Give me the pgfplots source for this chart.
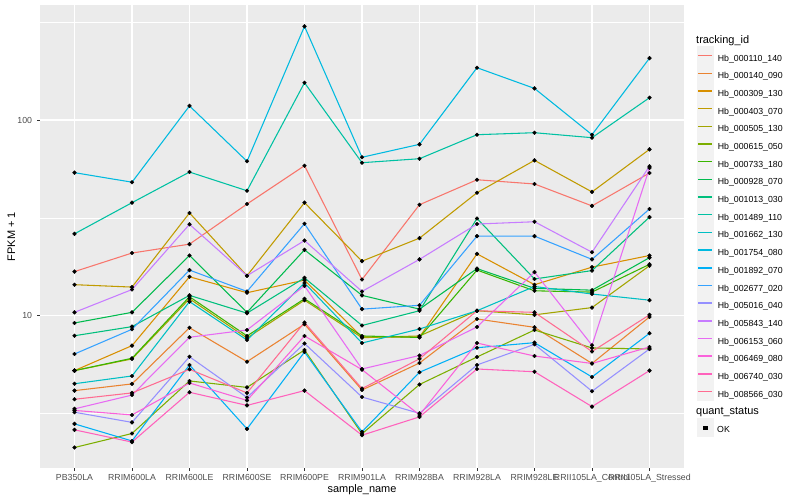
\documentclass[border=0pt]{standalone}
\usepackage{fontspec}
\setmainfont{Liberation Sans}
\usepackage{pgfplots}
\usepackage{pgfplotstable}
\pgfplotsset{compat=1.18}

\definecolor{panelbg}{HTML}{EBEBEB}
\definecolor{keybg}{HTML}{F2F2F2}
\definecolor{grey20}{HTML}{333333}
\definecolor{grey30}{HTML}{4D4D4D}
\definecolor{c01}{HTML}{F8766D}
\definecolor{c02}{HTML}{EA8331}
\definecolor{c03}{HTML}{D89000}
\definecolor{c04}{HTML}{C09B00}
\definecolor{c05}{HTML}{A3A500}
\definecolor{c06}{HTML}{7CAE00}
\definecolor{c07}{HTML}{39B600}
\definecolor{c08}{HTML}{00BB4E}
\definecolor{c09}{HTML}{00BF7D}
\definecolor{c10}{HTML}{00C1A3}
\definecolor{c11}{HTML}{00BFC4}
\definecolor{c12}{HTML}{00BAE0}
\definecolor{c13}{HTML}{00B0F6}
\definecolor{c14}{HTML}{35A2FF}
\definecolor{c15}{HTML}{9590FF}
\definecolor{c16}{HTML}{C77CFF}
\definecolor{c17}{HTML}{E76BF3}
\definecolor{c18}{HTML}{FA62DB}
\definecolor{c19}{HTML}{FF62BC}
\definecolor{c20}{HTML}{FF6C91}

% FPKM + 1 per sample (rows) and transcript (columns)
\pgfplotstableread{
x  s01  s02  s03  s04  s05  s06  s07  s08  s09  s10  s11  s12  s13  s14  s15  s16  s17  s18  s19  s20
1  16.8 4.14 5.24 14.4 5.24 2.12 5.24 9.18 7.90 26.2 4.49 53.8 2.80 6.37 3.21 10.4 3.34 3.28 2.61 3.74
2  20.9 4.48 7.03 14.0 6.01 2.50 6.06 10.4 8.79 37.8 4.92 48.1 2.29 8.52 2.85 13.6 3.93 3.11 2.26 4.03
3  23.2 8.68 15.8 33.5 12.2 4.64 12.5 20.3 12.7 54.2 11.8 118  5.60 17.1 6.17 29.3 7.76 4.53 4.06 5.32
4  37.2 5.82 13.1 16.0 7.69 4.30 7.88 10.4 10.3 43.5 7.51 61.5 2.64 13.3 3.82 16.0 8.45 3.69 3.48 4.03
5  58.4 9.05 15.2 37.8 12.0 6.68 12.2 21.7 15.6 155  14.7 301  6.52 29.5 7.21 24.2 14.2 7.88 4.14 9.23
6  15.3 4.17 7.78 19.0 7.72 2.49 7.88 12.7 8.91 60.5 7.25 64.5 2.55 10.8 3.84 13.3 5.34 5.30 2.45 4.24
7  36.9 5.73 7.78 24.9 7.88 4.45 7.74 10.8 10.6 63.4 8.55 75.1 5.14 11.3 3.17 19.4 6.26 3.11 3.04 6.02
8  49.5 9.62 20.7 42.5 10.6 6.15 17.1 17.4 31.4 84.1 10.6 185  6.86 25.5 5.60 29.4 8.76 7.25 5.34 10.6
9  47.1 8.72 14.4 62.2 10.1 8.45 13.4 13.8 15.4 86.1 14.1 145  7.28 25.5 7.14 30.2 16.7 6.22 5.17 10.4
10 36.4 5.70 17.7 42.9 11.0 6.84 13.2 13.5 17.0 81.2 12.9 84.1 4.86 19.4 4.11 21.1 7.06 5.70 3.43 6.56
11 53.6 9.85 20.3 70.8 18.0 6.76 18.3 19.8 31.9 130  12.0 207  8.13 35.1 6.76 58.0 56.9 6.92 5.24 10.1
}\fpkm

\pgfplotsset{
  pt/.style={only marks, mark=*, mark size=1.9bp, draw=black, fill=black, forget plot},
}

\begin{document}
\begin{tikzpicture}
\useasboundingbox (0bp,0bp) rectangle (800bp,500bp);
\begin{axis}[
  at={(40bp,32bp)}, anchor=south west,
  scale only axis, width=644bp, height=463bp,
  xmin=0.4, xmax=11.6,
  ymode=log, ymin=1.666, ymax=387,
  xtick={1,...,11},
  xticklabels={PB350LA,RRIM600LA,RRIM600LE,RRIM600SE,RRIM600PE,RRIM901LA,RRIM928BA,RRIM928LA,RRIM928LE,RRII105LA\_Control,RRII105LA\_Stressed},
  ytick={10,100}, yticklabels={10,100},
  minor ytick={3.1623,31.623,316.23},
  xmajorgrids, ymajorgrids, yminorgrids,
  major grid style={white, line width=1.07bp},
  minor grid style={white, line width=0.53bp},
  axis background/.style={fill=panelbg},
  axis x line*=bottom, axis y line*=left, axis line style={draw=none},
  tick align=outside, major tick length=2.75bp, minor tick length=0pt,
  tick style={grey20, line width=0.8bp},
  ticklabel style={font=\fontsize{8.8}{10}\selectfont, text=grey30, inner sep=0pt},
  xticklabel style={yshift=-3.6bp},
  yticklabel style={xshift=-4.95bp},
  xlabel={sample\_name}, ylabel={FPKM + 1},
  label style={font=\fontsize{11}{13}\selectfont},
  xlabel style={at={(axis description cs:0.5,-0.0475)}, anchor=center},
  ylabel style={at={(axis description cs:-0.0445,0.5)}, anchor=center},
  legend style={at={(1.0196,0.9105)}, anchor=north west, draw=none, fill=none,
    inner sep=0pt, outer sep=0pt, row sep=-0.67bp, column sep=0pt,
    font=\fontsize{8.8}{10}\selectfont, nodes={inner xsep=3.6bp, inner ysep=0pt}},
  legend cell align=left,
  legend image code/.code={
    \fill[keybg] (0bp,-5.49bp) rectangle (16.6bp,11.79bp);
    \draw[#1, line width=1.5bp] (1.3bp,3.15bp) -- (15.3bp,3.15bp);},
]
\addplot[c01, line width=1.07bp] table[x=x, y=s01] {\fpkm}; \addlegendentry{Hb\_000110\_140}
\addplot[c02, line width=1.07bp] table[x=x, y=s02] {\fpkm}; \addlegendentry{Hb\_000140\_090}
\addplot[c03, line width=1.07bp] table[x=x, y=s03] {\fpkm}; \addlegendentry{Hb\_000309\_130}
\addplot[c04, line width=1.07bp] table[x=x, y=s04] {\fpkm}; \addlegendentry{Hb\_000403\_070}
\addplot[c05, line width=1.07bp] table[x=x, y=s05] {\fpkm}; \addlegendentry{Hb\_000505\_130}
\addplot[c06, line width=1.07bp] table[x=x, y=s06] {\fpkm}; \addlegendentry{Hb\_000615\_050}
\addplot[c07, line width=1.07bp] table[x=x, y=s07] {\fpkm}; \addlegendentry{Hb\_000733\_180}
\addplot[c08, line width=1.07bp] table[x=x, y=s08] {\fpkm}; \addlegendentry{Hb\_000928\_070}
\addplot[c09, line width=1.07bp] table[x=x, y=s09] {\fpkm}; \addlegendentry{Hb\_001013\_030}
\addplot[c10, line width=1.07bp] table[x=x, y=s10] {\fpkm}; \addlegendentry{Hb\_001489\_110}
\addplot[c11, line width=1.07bp] table[x=x, y=s11] {\fpkm}; \addlegendentry{Hb\_001662\_130}
\addplot[c12, line width=1.07bp] table[x=x, y=s12] {\fpkm}; \addlegendentry{Hb\_001754\_080}
\addplot[c13, line width=1.07bp] table[x=x, y=s13] {\fpkm}; \addlegendentry{Hb\_001892\_070}
\addplot[c14, line width=1.07bp] table[x=x, y=s14] {\fpkm}; \addlegendentry{Hb\_002677\_020}
\addplot[c15, line width=1.07bp] table[x=x, y=s15] {\fpkm}; \addlegendentry{Hb\_005016\_040}
\addplot[c16, line width=1.07bp] table[x=x, y=s16] {\fpkm}; \addlegendentry{Hb\_005843\_140}
\addplot[c17, line width=1.07bp] table[x=x, y=s17] {\fpkm}; \addlegendentry{Hb\_006153\_060}
\addplot[c18, line width=1.07bp] table[x=x, y=s18] {\fpkm}; \addlegendentry{Hb\_006469\_080}
\addplot[c19, line width=1.07bp] table[x=x, y=s19] {\fpkm}; \addlegendentry{Hb\_006740\_030}
\addplot[c20, line width=1.07bp] table[x=x, y=s20] {\fpkm}; \addlegendentry{Hb\_008566\_030}
% points on top of all lines
\addplot[pt] table[x=x, y=s01] {\fpkm};
\addplot[pt] table[x=x, y=s02] {\fpkm};
\addplot[pt] table[x=x, y=s03] {\fpkm};
\addplot[pt] table[x=x, y=s04] {\fpkm};
\addplot[pt] table[x=x, y=s05] {\fpkm};
\addplot[pt] table[x=x, y=s06] {\fpkm};
\addplot[pt] table[x=x, y=s07] {\fpkm};
\addplot[pt] table[x=x, y=s08] {\fpkm};
\addplot[pt] table[x=x, y=s09] {\fpkm};
\addplot[pt] table[x=x, y=s10] {\fpkm};
\addplot[pt] table[x=x, y=s11] {\fpkm};
\addplot[pt] table[x=x, y=s12] {\fpkm};
\addplot[pt] table[x=x, y=s13] {\fpkm};
\addplot[pt] table[x=x, y=s14] {\fpkm};
\addplot[pt] table[x=x, y=s15] {\fpkm};
\addplot[pt] table[x=x, y=s16] {\fpkm};
\addplot[pt] table[x=x, y=s17] {\fpkm};
\addplot[pt] table[x=x, y=s18] {\fpkm};
\addplot[pt] table[x=x, y=s19] {\fpkm};
\addplot[pt] table[x=x, y=s20] {\fpkm};
\end{axis}
% second legend (quant_status) from a hidden axis
\begin{axis}[
  at={(40bp,32bp)}, anchor=south west,
  scale only axis, width=644bp, height=463bp,
  hide axis, xmin=0, xmax=1, ymin=0, ymax=1,
  legend style={at={(1.0196,0.1070)}, anchor=north west, draw=none, fill=none,
    inner sep=0pt, outer sep=0pt, column sep=0pt,
    font=\fontsize{8.8}{10}\selectfont, nodes={inner xsep=3.6bp, inner ysep=0pt}},
  legend cell align=left,
  legend image code/.code={
    \fill[keybg] (0bp,-5.49bp) rectangle (16.6bp,11.79bp);
    \fill[black] (6.7bp,1.55bp) rectangle (9.9bp,4.75bp);},
]
\addplot[draw=none, forget plot] coordinates {(0,0) (1,1)};
\addlegendimage{black}
\addlegendentry{OK}
\end{axis}
\node[anchor=west, inner sep=0pt, font=\fontsize{11}{13}\selectfont] at (696bp,459.3bp) {tracking\_id};
\node[anchor=west, inner sep=0pt, font=\fontsize{11}{13}\selectfont] at (696bp,87.7bp) {quant\_status};
\end{tikzpicture}
\end{document}
